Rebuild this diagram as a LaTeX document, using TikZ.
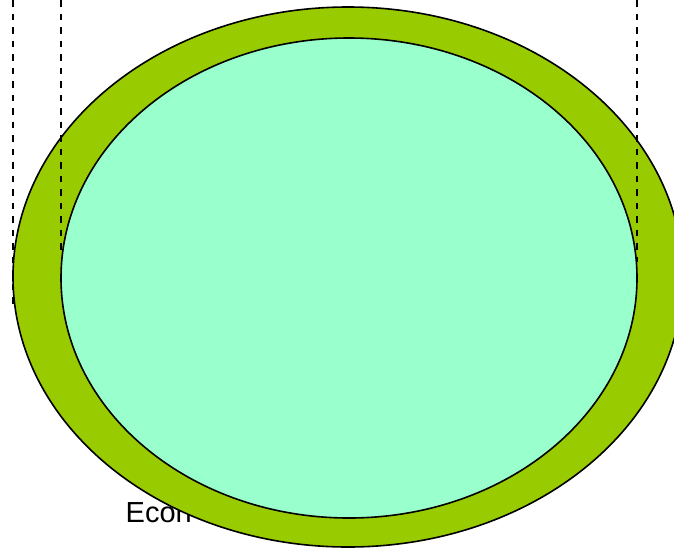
\documentclass[tikz,border=0pt]{standalone}
\usepackage{fontspec}
\usetikzlibrary{shapes.geometric}
\setmainfont{Liberation Sans}
\definecolor{outergreen}{HTML}{99CC00}
\definecolor{innermint}{HTML}{99FFCC}
\begin{document}
\begin{tikzpicture}[x=1pt,y=-1pt,
  ring/.style={draw=black,line width=1.6pt,ellipse,inner sep=0pt},
  guide/.style={draw=black,line width=1.5pt,dash pattern=on 6.5pt off 7pt},
  lbl/.style={font=\fontsize{29}{33}\selectfont,inner sep=0pt,anchor=base west}]
\useasboundingbox (0,0) rectangle (674,547);
\clip (0,0) rectangle (674,547);
\node[lbl] (econ) at (125.5,522) {Econ};
\node[ring,fill=outergreen,minimum width=670pt,minimum height=540pt] (outer) at (348,277) {};
\node[ring,fill=innermint,minimum width=576pt,minimum height=480pt] (inner) at (349,278) {};
\coordinate (g1a) at (13,0);
\coordinate (g1b) at (13,310);
\coordinate (g2a) at (61,0);
\coordinate (g2b) at (61,255);
\coordinate (g3a) at (637,0);
\coordinate (g3b) at (637,262);
\draw[guide] (g1a) -- (g1b);
\draw[guide] (g2a) -- (g2b);
\draw[guide] (g3a) -- (g3b);
\end{tikzpicture}
\end{document}
